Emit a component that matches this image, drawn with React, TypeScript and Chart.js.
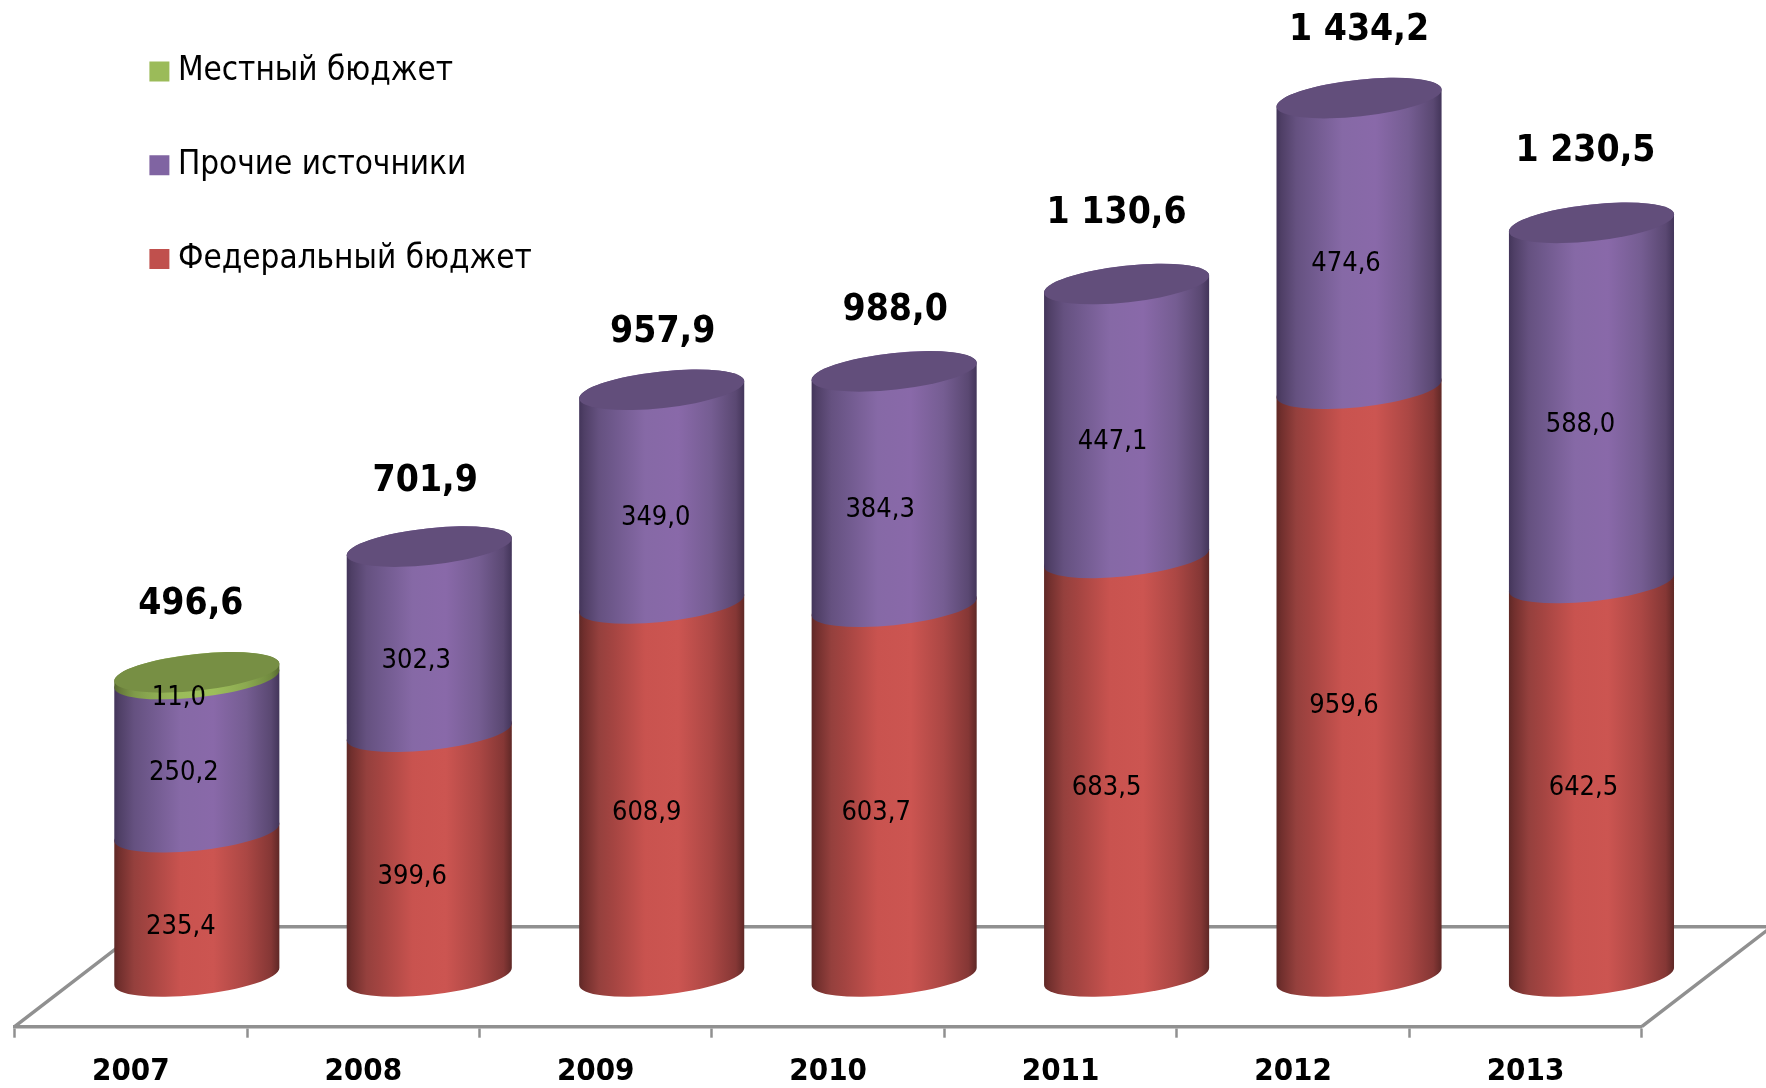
import React, { useEffect, useRef } from "react";
import { Chart, registerables } from "chart.js";

Chart.register(...registerables);

const years = ["2007", "2008", "2009", "2010", "2011", "2012", "2013"];
const federal = [235.4, 399.6, 608.9, 603.7, 683.5, 959.6, 642.5];
const other = [250.2, 302.3, 349.0, 384.3, 447.1, 474.6, 588.0];
const local = [11.0, null, null, null, null, null, null];
const seriesNames = ["Федеральный бюджет", "Прочие источники", "Местный бюджет"];

// Hand placement of the labels, as in the source chart (px, not data)
const federalLabelDx = [-16, -17, -15, -18, -20, -15, -8];
const federalLabelDy = [23, 23, 23, 21, 21, 23, 8];
const otherLabelDx = [-13, -13, -6, -14, -14, -13, -11];
const otherLabelDy = [17, 22, 21, 21, 21, 21, 22];
const localLabelDx = [-18, 0, 0, 0, 0, 0, 0];
const localLabelDy = [22, 0, 0, 0, 0, 0, 0];
const totalLabelDx = [-6, -4, 1, 1, -10, 0, -6];
const totalLabelDy = [-68, -65, -57, -61, -71, -68, -71];

const FONT = "'DejaVu Sans Condensed', 'DejaVu Sans', sans-serif";
const DEPTH_X = 66.0;
const DEPTH_Y = 50.2;
const WALL_X = 130;
const WALL_Y = 100;
const ELLIPSE_A = 83;
const ELLIPSE_B = 18.3;
const ELLIPSE_TILT = (-6.2 * Math.PI) / 180;
const LINE_GREY = "#909090";

const SOLID = ["#C0504D", "#8064A2", "#9BBB59"];
const CAPS = ["#a5433f", "#624e7b", "#778f44"];
const STOPS = [0, 0.03, 0.12, 0.2, 0.4, 0.6, 0.8, 0.95, 1];
const SHADES = [
  ["#5f2826", "#712f2d", "#95403d", "#a34441", "#c9534f", "#cc5551", "#ab4744", "#853735", "#5f2826"],
  ["#43355a", "#4f3f66", "#655180", "#6e588b", "#8669a6", "#8969a9", "#755d92", "#5a4872", "#43355a"],
  ["#56682f", "#66793a", "#7f9a49", "#88a64f", "#9bbc5a", "#9dbe5b", "#8ba950", "#70893f", "#56682f"],
];

const fmt = (v: number) => {
  const [i, d] = v.toFixed(1).split(".");
  return i.replace(/\B(?=(\d{3})+$)/g, " ") + "," + d;
};

const cylinders = {
  id: "cylinders",
  beforeDraw(chart: any) {
    const lg = chart.legend;
    lg.left = 96.6;
    lg.right = 700;
    lg.top = -5.8;
    lg.bottom = 400;
  },
  beforeDatasetsDraw(chart: any) {
    const { ctx, chartArea: ca, width } = chart;
    ctx.save();
    ctx.strokeStyle = LINE_GREY;
    ctx.lineWidth = 3.5;
    ctx.beginPath();
    ctx.moveTo(ca.left, ca.bottom);
    ctx.lineTo(ca.left + WALL_X, ca.bottom - WALL_Y);
    ctx.lineTo(width, ca.bottom - WALL_Y);
    ctx.moveTo(ca.right, ca.bottom);
    ctx.lineTo(ca.right + WALL_X, ca.bottom - WALL_Y);
    ctx.stroke();

    const a = ELLIPSE_A;
    const b = ELLIPSE_B;
    const th = ELLIPSE_TILT;
    const t0 = Math.atan2(-b * Math.sin(th), a * Math.cos(th));
    const xExt = Math.sqrt(a * a * Math.cos(th) ** 2 + b * b * Math.sin(th) ** 2);

    years.forEach((_, c) => {
      let topDs = -1;
      chart.data.datasets.forEach((ds: any, d: number) => {
        if (ds.data[c] == null) return;
        const el = chart.getDatasetMeta(d).data[c];
        const cx = el.x + DEPTH_X;
        const yb = el.base - DEPTH_Y;
        const yt = el.y - DEPTH_Y;
        const g = ctx.createLinearGradient(cx - xExt, 0, cx + xExt, 0);
        SHADES[d].forEach((col, i) => g.addColorStop(STOPS[i], col));
        ctx.fillStyle = g;
        ctx.beginPath();
        ctx.ellipse(cx, yb, a, b, th, t0, t0 + Math.PI, false);
        ctx.ellipse(cx, yt, a, b, th, t0 + Math.PI, t0 + 2 * Math.PI, false);
        ctx.closePath();
        ctx.fill();
        topDs = d;
      });
      const el = chart.getDatasetMeta(topDs).data[c];
      ctx.fillStyle = CAPS[topDs];
      ctx.beginPath();
      ctx.ellipse(el.x + DEPTH_X, el.y - DEPTH_Y, a, b, th, 0, 2 * Math.PI);
      ctx.fill();
    });
    ctx.restore();
    return false;
  },
  afterDraw(chart: any) {
    const { ctx } = chart;
    ctx.save();
    ctx.textAlign = "center";
    ctx.textBaseline = "middle";
    ctx.fillStyle = "#000";
    const dxs = [federalLabelDx, otherLabelDx, localLabelDx];
    const dys = [federalLabelDy, otherLabelDy, localLabelDy];
    ctx.font = `27px ${FONT}`;
    chart.data.datasets.forEach((ds: any, d: number) => {
      const meta = chart.getDatasetMeta(d);
      ds.data.forEach((v: number | null, c: number) => {
        if (v == null) return;
        const el = meta.data[c];
        const cx = el.x + DEPTH_X + dxs[d][c];
        const cy = (el.y + el.base) / 2 - DEPTH_Y + dys[d][c];
        ctx.fillText(fmt(v), cx, cy);
      });
    });
    ctx.font = `bold 37px ${FONT}`;
    years.forEach((_, c) => {
      let total = 0;
      let topEl: any = null;
      chart.data.datasets.forEach((ds: any, d: number) => {
        if (ds.data[c] == null) return;
        total += ds.data[c];
        topEl = chart.getDatasetMeta(d).data[c];
      });
      ctx.fillText(
        fmt(total),
        topEl.x + DEPTH_X + totalLabelDx[c],
        topEl.y - DEPTH_Y + totalLabelDy[c]
      );
    });
    ctx.restore();
  },
};

export default function App() {
  const ref = useRef<HTMLCanvasElement>(null);
  useEffect(() => {
    const chart = new Chart(ref.current!, {
      type: "bar",
      plugins: [cylinders],
      data: {
        labels: years,
        datasets: [federal, other, local].map((values, i) => ({
          label: seriesNames[i],
          data: values,
          backgroundColor: SOLID[i],
          borderColor: SOLID[i],
          borderWidth: 16,
          barThickness: 164.5,
        })),
      },
      options: {
        responsive: false,
        animation: false,
        layout: { padding: { left: 14.6, right: 124.3, top: 108, bottom: 0 } },
        plugins: {
          tooltip: { enabled: false },
          legend: {
            position: "chartArea",
            align: "start",
            reverse: true,
            labels: {
              boxWidth: 4,
              boxHeight: 4,
              padding: 60.8,
              color: "#000",
              font: { family: FONT, size: 33 },
            },
          },
        },
        scales: {
          x: {
            stacked: true,
            afterFit: (s: any) => {
              s.height = 61.3;
            },
            border: { color: LINE_GREY, width: 3.5 },
            grid: {
              drawOnChartArea: false,
              drawTicks: true,
              tickLength: 11,
              tickWidth: 2.5,
              tickColor: LINE_GREY,
            },
            ticks: {
              color: "#000",
              padding: 16,
              maxRotation: 0,
              font: { family: FONT, size: 31, weight: "bold" },
            },
          },
          y: { stacked: true, display: false, min: 0, max: 1500 },
        },
      } as any,
    });
    return () => chart.destroy();
  }, []);
  return (
    <div style={{ position: "absolute", left: 0, top: 0, width: 1766, height: 1088, background: "#fff" }}>
      <canvas ref={ref} width={1766} height={1088} style={{ display: "block" }} />
    </div>
  );
}
